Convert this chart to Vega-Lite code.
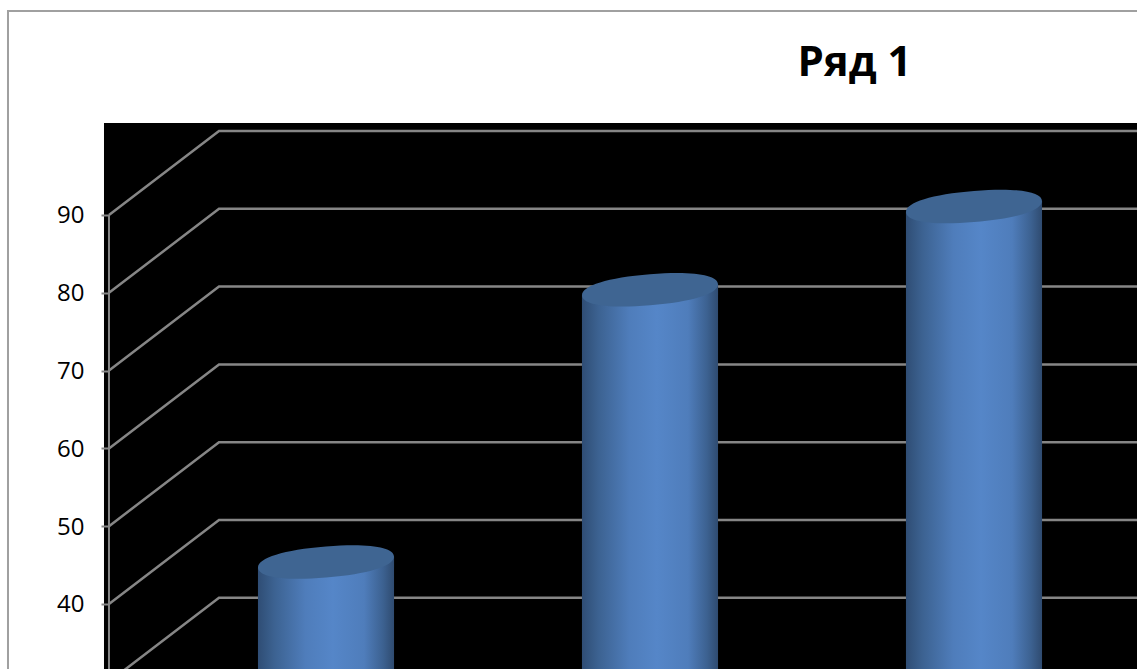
{
"$schema":"https://vega.github.io/schema/vega-lite/v6.json",
"width":1137,"height":669,"padding":0,"autosize":{"type":"none"},
"background":"#ffffff",
"config":{"view":{"stroke":null}},
"title":{"text":"Ряд 1","anchor":"middle","frame":"group","dx":286,"dy":118,"offset":0,"baseline":"alphabetic","font":"Open Sans","fontWeight":"bold","fontSize":42,"color":"#000000"},
"datasets":{
"frame":[{"i":1,"x":0.0185,"y":31.645},{"i":2,"x":0.0185,"y":116.22},{"i":3,"x":3.5031,"y":116.22}],
"wall":[{"x":0.3148,"x2":3.5031,"y":101.825,"y2":31.645}],
"grid":[
{"level":90,"x":0.3302,"y":90},{"level":90,"x":0.6698,"y":100.797},{"level":90,"x":3.5031,"y":100.797},
{"level":80,"x":0.3302,"y":80},{"level":80,"x":0.6698,"y":90.797},{"level":80,"x":3.5031,"y":90.797},
{"level":70,"x":0.3302,"y":70},{"level":70,"x":0.6698,"y":80.797},{"level":70,"x":3.5031,"y":80.797},
{"level":60,"x":0.3302,"y":60},{"level":60,"x":0.6698,"y":70.797},{"level":60,"x":3.5031,"y":70.797},
{"level":50,"x":0.3302,"y":50},{"level":50,"x":0.6698,"y":60.797},{"level":50,"x":3.5031,"y":60.797},
{"level":40,"x":0.3302,"y":40},{"level":40,"x":0.6698,"y":50.797},{"level":40,"x":3.5031,"y":50.797},
{"level":30,"x":0.3302,"y":30},{"level":30,"x":0.6698,"y":40.797},{"level":30,"x":3.5031,"y":40.797}],
"axisline":[{"x":0.3302,"y":90,"y2":31.645}],
"body":[
{"cat":"A","x":0.79,"value":39.3},{"cat":"A","x":1.21,"value":40.7},
{"cat":"B","x":1.79,"value":74.3},{"cat":"B","x":2.21,"value":75.7},
{"cat":"C","x":2.79,"value":85},{"cat":"C","x":3.21,"value":86.4}],
"bars":[{"cat":"A","x":1,"value":40},{"cat":"B","x":2,"value":75},{"cat":"C","x":3,"value":85.7}]
},
"resolve":{"scale":{"y":"independent"}},
"layer":[
{"data":{"name":"wall"},"mark":{"type":"rect","color":"#000000","clip":true},
"encoding":{"x":{"field":"x","type":"quantitative","axis":null,"scale":{"domain":[-0.00617,3.5031],"nice":false,"zero":false}},"x2":{"field":"x2"},
"y":{"field":"y","type":"quantitative","axis":{"orient":"left","offset":-109,"values":[40,50,60,70,80,90],"title":null,"domain":false,"grid":false,"tickColor":"#868686","tickWidth":2,"tickSize":8,"labelPadding":17,"labelOffset":1,"labelFont":"Open Sans","labelFontSize":24,"labelColor":"#000000","zindex":1},"scale":{"domain":[31.645,117.635],"nice":false,"zero":false}},"y2":{"field":"y2"}}},
{"data":{"name":"frame"},"mark":{"type":"line","color":"#a0a0a0","strokeWidth":2,"clip":true},
"encoding":{"order":{"field":"i"},"x":{"field":"x","type":"quantitative","axis":null,"scale":{"domain":[-0.00617,3.5031],"nice":false,"zero":false}},
"y":{"field":"y","type":"quantitative","axis":null,"scale":{"domain":[31.645,117.635],"nice":false,"zero":false}}}},
{"data":{"name":"grid"},"mark":{"type":"line","color":"#868686","strokeWidth":2.5,"clip":true},
"encoding":{"detail":{"field":"level"},"x":{"field":"x","type":"quantitative","axis":null,"scale":{"domain":[-0.00617,3.5031],"nice":false,"zero":false}},
"y":{"field":"y","type":"quantitative","axis":null,"scale":{"domain":[31.645,117.635],"nice":false,"zero":false}}}},
{"data":{"name":"axisline"},"mark":{"type":"rule","color":"#868686","strokeWidth":2,"clip":true},
"encoding":{"x":{"field":"x","type":"quantitative","axis":null,"scale":{"domain":[-0.00617,3.5031],"nice":false,"zero":false}},
"y":{"field":"y","type":"quantitative","axis":null,"scale":{"domain":[31.645,117.635],"nice":false,"zero":false}},"y2":{"field":"y2"}}},
{"data":{"name":"body"},"mark":{"type":"area","orient":"vertical","clip":true,"color":{"gradient":"linear","x1":0,"y1":0,"x2":1,"y2":0,"stops":[{"offset":0,"color":"#2f4d74"},{"offset":0.12,"color":"#3c6291"},{"offset":0.35,"color":"#4f7dbb"},{"offset":0.55,"color":"#5586c8"},{"offset":0.78,"color":"#4f7dbb"},{"offset":0.92,"color":"#3c6190"},{"offset":1,"color":"#2f4b70"}]}},
"encoding":{"detail":{"field":"cat"},"x":{"field":"x","type":"quantitative","axis":null,"scale":{"domain":[-0.00617,3.5031],"nice":false,"zero":false}},
"y":{"field":"value","type":"quantitative","axis":null,"scale":{"domain":[26.247,112.237],"nice":false,"zero":false}},"y2":{"datum":0}}},
{"data":{"name":"bars"},"mark":{"type":"point","filled":true,"clip":true,"color":"#3f6592","opacity":1,"size":18496,"shape":"M1,-.08 C1,.062 .62,.1794 0,.229 C-.62,.2786 -1,.222 -1,.08 C-1,-.062 -.62,-.1794 0,-.229 C.62,-.2786 1,-.222 1,-.08 Z"},
"encoding":{"x":{"field":"x","type":"quantitative","axis":null,"scale":{"domain":[-0.00617,3.5031],"nice":false,"zero":false}},
"y":{"field":"value","type":"quantitative","axis":null,"scale":{"domain":[26.247,112.237],"nice":false,"zero":false}}}}
]
}
